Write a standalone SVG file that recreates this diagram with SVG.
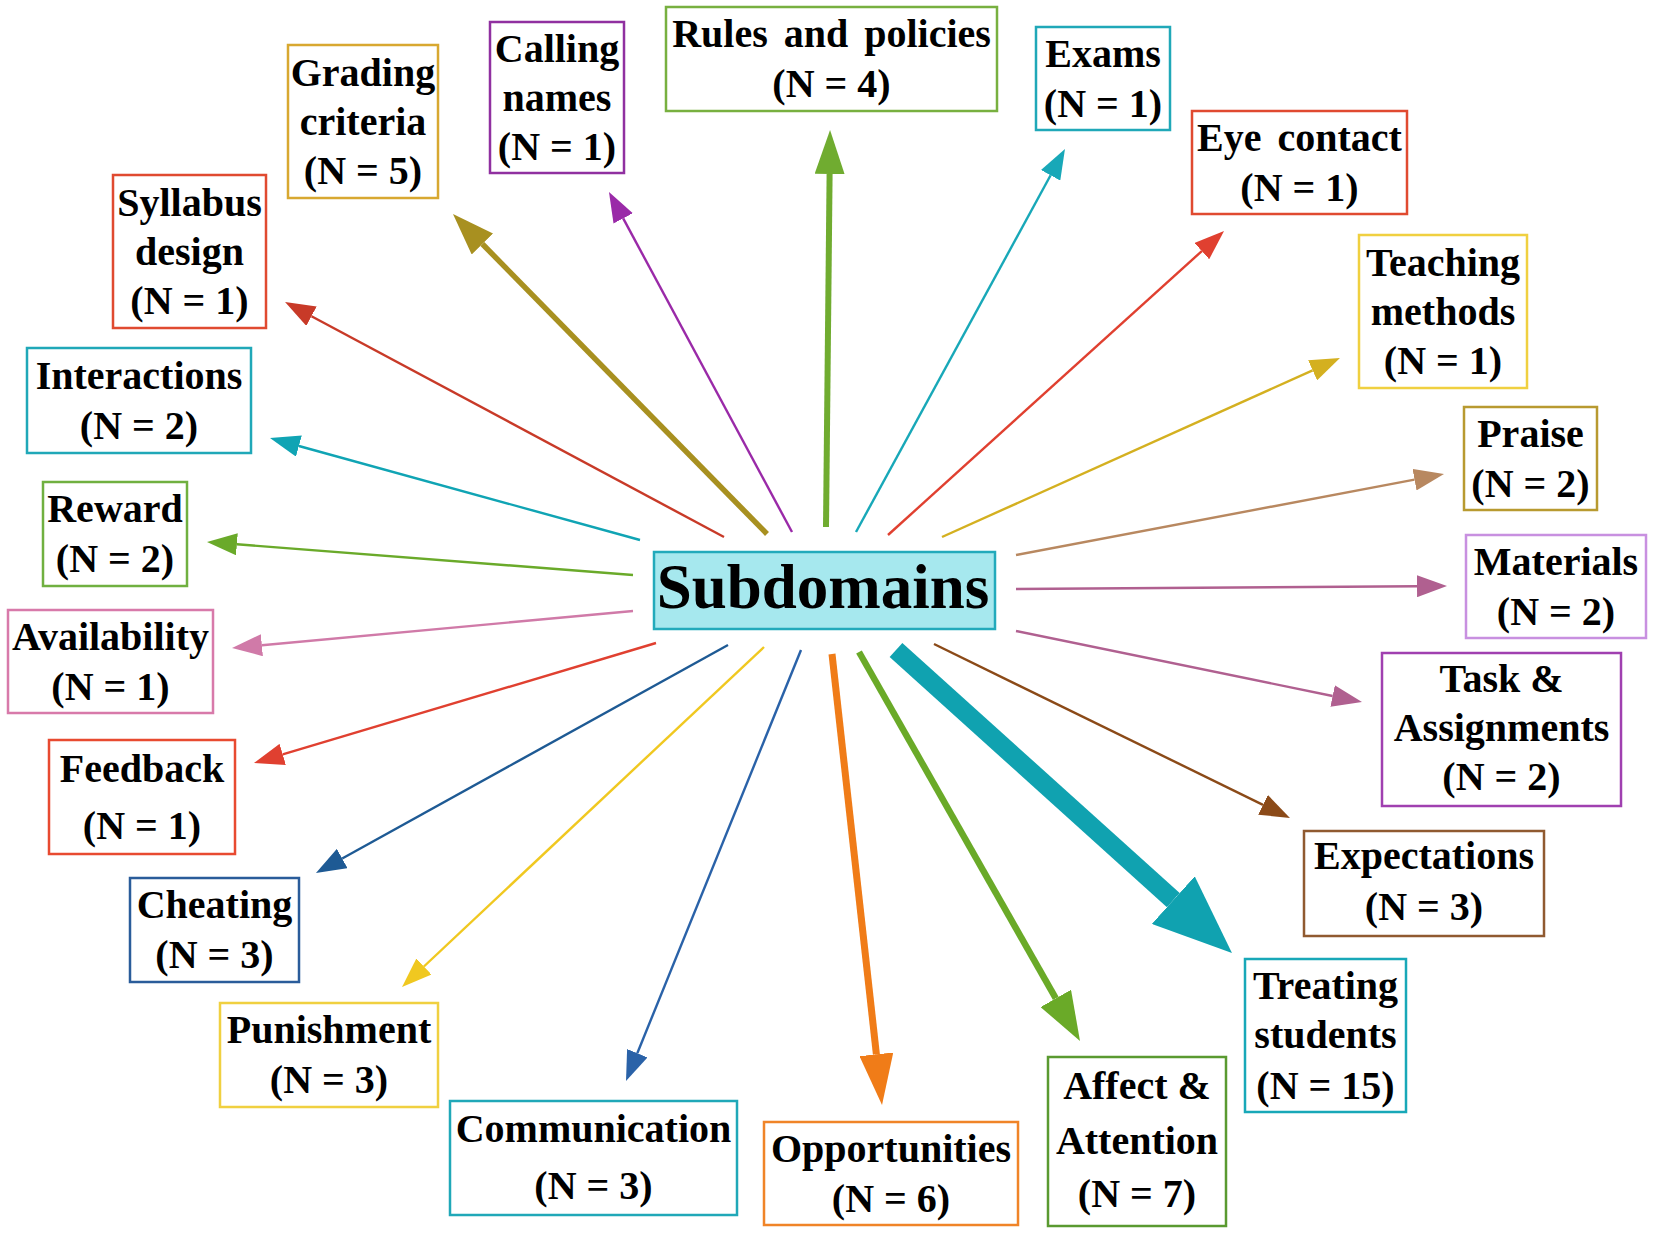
<svg xmlns="http://www.w3.org/2000/svg" width="1654" height="1234" viewBox="0 0 1654 1234">
<style>
.box{fill:#fff;stroke-width:2.5}
.lbl{font-family:"Liberation Serif","Times New Roman",serif;font-weight:bold;font-size:40px;text-anchor:middle;fill:#000}
.c{fill:none;stroke-linecap:butt}
.t{stroke-width:2.4}
</style>
<defs>
<marker id="mSyl" viewBox="0 -11 30 22" refX="0" refY="0" markerWidth="30" markerHeight="22" orient="auto" markerUnits="userSpaceOnUse"><path d="M0,-11 L30,0 L0,11 z" fill="#C83A28"/></marker>
<marker id="mGra" viewBox="0 -15 42 30" refX="0" refY="0" markerWidth="42" markerHeight="30" orient="auto" markerUnits="userSpaceOnUse"><path d="M0,-15 L42,0 L0,15 z" fill="#A89020"/></marker>
<marker id="mCal" viewBox="0 -11 30 22" refX="0" refY="0" markerWidth="30" markerHeight="22" orient="auto" markerUnits="userSpaceOnUse"><path d="M0,-11 L30,0 L0,11 z" fill="#9A2AA8"/></marker>
<marker id="mRul" viewBox="0 -15 44 30" refX="0" refY="0" markerWidth="44" markerHeight="30" orient="auto" markerUnits="userSpaceOnUse"><path d="M0,-15 L44,0 L0,15 z" fill="#70AC30"/></marker>
<marker id="mInt" viewBox="0 -11 30 22" refX="0" refY="0" markerWidth="30" markerHeight="22" orient="auto" markerUnits="userSpaceOnUse"><path d="M0,-11 L30,0 L0,11 z" fill="#10A4B4"/></marker>
<marker id="mRew" viewBox="0 -11 30 22" refX="0" refY="0" markerWidth="30" markerHeight="22" orient="auto" markerUnits="userSpaceOnUse"><path d="M0,-11 L30,0 L0,11 z" fill="#6AAA2A"/></marker>
<marker id="mAva" viewBox="0 -11 30 22" refX="0" refY="0" markerWidth="30" markerHeight="22" orient="auto" markerUnits="userSpaceOnUse"><path d="M0,-11 L30,0 L0,11 z" fill="#D07AA8"/></marker>
<marker id="mFee" viewBox="0 -11 30 22" refX="0" refY="0" markerWidth="30" markerHeight="22" orient="auto" markerUnits="userSpaceOnUse"><path d="M0,-11 L30,0 L0,11 z" fill="#E04030"/></marker>
<marker id="mChe" viewBox="0 -11 30 22" refX="0" refY="0" markerWidth="30" markerHeight="22" orient="auto" markerUnits="userSpaceOnUse"><path d="M0,-11 L30,0 L0,11 z" fill="#1E5A94"/></marker>
<marker id="mPun" viewBox="0 -11 30 22" refX="0" refY="0" markerWidth="30" markerHeight="22" orient="auto" markerUnits="userSpaceOnUse"><path d="M0,-11 L30,0 L0,11 z" fill="#F0C820"/></marker>
<marker id="mCom" viewBox="0 -11 30 22" refX="0" refY="0" markerWidth="30" markerHeight="22" orient="auto" markerUnits="userSpaceOnUse"><path d="M0,-11 L30,0 L0,11 z" fill="#2A62A8"/></marker>
<marker id="mOpp" viewBox="0 -17 51 34" refX="0" refY="0" markerWidth="51" markerHeight="34" orient="auto" markerUnits="userSpaceOnUse"><path d="M0,-17 L51,0 L0,17 z" fill="#F07C18"/></marker>
<marker id="mAff" viewBox="0 -17.5 49 35" refX="0" refY="0" markerWidth="49" markerHeight="35" orient="auto" markerUnits="userSpaceOnUse"><path d="M0,-17.5 L49,0 L0,17.5 z" fill="#6AAA28"/></marker>
<marker id="mTre" viewBox="0 -32 79 64" refX="0" refY="0" markerWidth="79" markerHeight="64" orient="auto" markerUnits="userSpaceOnUse"><path d="M0,-32 L79,0 L0,32 z" fill="#10A2B0"/></marker>
<marker id="mExp" viewBox="0 -11 30 22" refX="0" refY="0" markerWidth="30" markerHeight="22" orient="auto" markerUnits="userSpaceOnUse"><path d="M0,-11 L30,0 L0,11 z" fill="#8B4A18"/></marker>
<marker id="mTas" viewBox="0 -11 30 22" refX="0" refY="0" markerWidth="30" markerHeight="22" orient="auto" markerUnits="userSpaceOnUse"><path d="M0,-11 L30,0 L0,11 z" fill="#B06090"/></marker>
<marker id="mMat" viewBox="0 -11 30 22" refX="0" refY="0" markerWidth="30" markerHeight="22" orient="auto" markerUnits="userSpaceOnUse"><path d="M0,-11 L30,0 L0,11 z" fill="#B06090"/></marker>
<marker id="mPra" viewBox="0 -11 30 22" refX="0" refY="0" markerWidth="30" markerHeight="22" orient="auto" markerUnits="userSpaceOnUse"><path d="M0,-11 L30,0 L0,11 z" fill="#B88860"/></marker>
<marker id="mTea" viewBox="0 -11 30 22" refX="0" refY="0" markerWidth="30" markerHeight="22" orient="auto" markerUnits="userSpaceOnUse"><path d="M0,-11 L30,0 L0,11 z" fill="#D4B020"/></marker>
<marker id="mEye" viewBox="0 -11 30 22" refX="0" refY="0" markerWidth="30" markerHeight="22" orient="auto" markerUnits="userSpaceOnUse"><path d="M0,-11 L30,0 L0,11 z" fill="#E04030"/></marker>
<marker id="mExa" viewBox="0 -11 30 22" refX="0" refY="0" markerWidth="30" markerHeight="22" orient="auto" markerUnits="userSpaceOnUse"><path d="M0,-11 L30,0 L0,11 z" fill="#18A8B8"/></marker>
</defs>
<rect x="0" y="0" width="1654" height="1234" fill="#fff"/>
<g id="connectors">
<line class="c t" x1="724" y1="537" x2="311.5" y2="316.2" stroke="#C83A28" marker-end="url(#mSyl)"/>
<line class="c" x1="767" y1="534" x2="482.4" y2="244" stroke="#A89020" stroke-width="5.5" marker-end="url(#mGra)"/>
<line class="c t" x1="792" y1="532" x2="623.2" y2="218.4" stroke="#9A2AA8" marker-end="url(#mCal)"/>
<line class="c" x1="826" y1="527" x2="829.6" y2="174" stroke="#70AC30" stroke-width="6" marker-end="url(#mRul)"/>
<line class="c t" x1="640" y1="540" x2="298.9" y2="446" stroke="#10A4B4" marker-end="url(#mInt)"/>
<line class="c t" x1="633" y1="575" x2="236.9" y2="544.3" stroke="#6AAA2A" marker-end="url(#mRew)"/>
<line class="c t" x1="633" y1="611" x2="261.9" y2="645.2" stroke="#D07AA8" marker-end="url(#mAva)"/>
<line class="c t" x1="656" y1="643" x2="282.7" y2="754.4" stroke="#E04030" marker-end="url(#mFee)"/>
<line class="c t" x1="728" y1="645" x2="342.2" y2="858.5" stroke="#1E5A94" marker-end="url(#mChe)"/>
<line class="c t" x1="764" y1="647" x2="423.9" y2="966.5" stroke="#F0C820" marker-end="url(#mPun)"/>
<line class="c t" x1="801" y1="650" x2="637.3" y2="1053.2" stroke="#2A62A8" marker-end="url(#mCom)"/>
<line class="c" x1="832" y1="654" x2="876.4" y2="1054.3" stroke="#F07C18" stroke-width="7" marker-end="url(#mOpp)"/>
<line class="c" x1="859" y1="652" x2="1055.8" y2="998.4" stroke="#6AAA28" stroke-width="6.5" marker-end="url(#mAff)"/>
<line class="c" x1="896" y1="650" x2="1173.3" y2="900.1" stroke="#10A2B0" stroke-width="19" marker-end="url(#mTre)"/>
<line class="c t" x1="934" y1="644" x2="1263" y2="804.8" stroke="#8B4A18" marker-end="url(#mExp)"/>
<line class="c t" x1="1016" y1="631" x2="1332.6" y2="696" stroke="#B06090" marker-end="url(#mTas)"/>
<line class="c t" x1="1016" y1="589" x2="1417" y2="586.2" stroke="#B06090" marker-end="url(#mMat)"/>
<line class="c t" x1="1016" y1="555" x2="1414.5" y2="479.6" stroke="#B88860" marker-end="url(#mPra)"/>
<line class="c t" x1="942" y1="537" x2="1312.6" y2="370.3" stroke="#D4B020" marker-end="url(#mTea)"/>
<line class="c t" x1="888" y1="535" x2="1201.8" y2="251.1" stroke="#E04030" marker-end="url(#mEye)"/>
<line class="c t" x1="856" y1="532" x2="1050.6" y2="175.3" stroke="#18A8B8" marker-end="url(#mExa)"/>
</g>
<g id="subdomains">
<rect x="654" y="552" width="341" height="77" fill="#A6E8EE" stroke="#22AABB" stroke-width="2.5"/>
<text x="823" y="608" class="lbl" style="font-size:63px">Subdomains</text>
</g>
<g id="grading">
<rect class="box" x="288" y="45" width="150" height="153" stroke="#D8A830"/>
<text class="lbl" x="363" y="85.5">Grading</text><text class="lbl" x="363" y="134.5">criteria</text><text class="lbl" x="363" y="183.5">(N = 5)</text>
</g>
<g id="calling">
<rect class="box" x="490" y="22" width="134" height="151" stroke="#9030A0"/>
<text class="lbl" x="557" y="61.5">Calling</text><text class="lbl" x="557" y="110.5">names</text><text class="lbl" x="557" y="159.5">(N = 1)</text>
</g>
<g id="rules">
<rect class="box" x="666" y="7" width="331" height="104" stroke="#78B040"/>
<text class="lbl" x="831.5" y="47" word-spacing="6">Rules and policies</text><text class="lbl" x="831.5" y="97">(N = 4)</text>
</g>
<g id="syllabus">
<rect class="box" x="113" y="175" width="153" height="153" stroke="#E04A30"/>
<text class="lbl" x="189.5" y="215.5">Syllabus</text><text class="lbl" x="189.5" y="264.5">design</text><text class="lbl" x="189.5" y="313.5">(N = 1)</text>
</g>
<g id="interactions">
<rect class="box" x="27" y="348" width="224" height="105" stroke="#20A8B8"/>
<text class="lbl" x="139" y="388.5">Interactions</text><text class="lbl" x="139" y="438.5">(N = 2)</text>
</g>
<g id="reward">
<rect class="box" x="43" y="482" width="144" height="104" stroke="#70B040"/>
<text class="lbl" x="115" y="522">Reward</text><text class="lbl" x="115" y="572">(N = 2)</text>
</g>
<g id="availability">
<rect class="box" x="8" y="610" width="205" height="103" stroke="#D87AAA"/>
<text class="lbl" x="110.5" y="649.5">Availability</text><text class="lbl" x="110.5" y="699.5">(N = 1)</text>
</g>
<g id="feedback">
<rect class="box" x="49" y="740" width="186" height="114" stroke="#E84A30"/>
<text class="lbl" x="142" y="782">Feedback</text><text class="lbl" x="142" y="839">(N = 1)</text>
</g>
<g id="cheating">
<rect class="box" x="130" y="878" width="169" height="104" stroke="#2A5C9A"/>
<text class="lbl" x="214.5" y="918">Cheating</text><text class="lbl" x="214.5" y="968">(N = 3)</text>
</g>
<g id="punishment">
<rect class="box" x="220" y="1003" width="218" height="104" stroke="#F0D040"/>
<text class="lbl" x="329" y="1043">Punishment</text><text class="lbl" x="329" y="1093">(N = 3)</text>
</g>
<g id="communication">
<rect class="box" x="450" y="1101" width="287" height="114" stroke="#20A8B8"/>
<text class="lbl" x="593.5" y="1142">Communication</text><text class="lbl" x="593.5" y="1199">(N = 3)</text>
</g>
<g id="opportunities">
<rect class="box" x="764" y="1122" width="254" height="103" stroke="#F08428"/>
<text class="lbl" x="891" y="1162">Opportunities</text><text class="lbl" x="891" y="1212">(N = 6)</text>
</g>
<g id="affect">
<rect class="box" x="1048" y="1057" width="178" height="169" stroke="#5A9A30"/>
<text class="lbl" x="1137" y="1099">Affect &amp;</text><text class="lbl" x="1137" y="1154">Attention</text><text class="lbl" x="1137" y="1207">(N = 7)</text>
</g>
<g id="treating">
<rect class="box" x="1245" y="959" width="161" height="153" stroke="#18A8B8"/>
<text class="lbl" x="1325.5" y="999">Treating</text><text class="lbl" x="1325.5" y="1048">students</text><text class="lbl" x="1325.5" y="1099">(N = 15)</text>
</g>
<g id="expectations">
<rect class="box" x="1304" y="831" width="240" height="105" stroke="#905A30"/>
<text class="lbl" x="1424" y="869">Expectations</text><text class="lbl" x="1424" y="920">(N = 3)</text>
</g>
<g id="task">
<rect class="box" x="1382" y="653" width="239" height="153" stroke="#A040B0"/>
<text class="lbl" x="1501.5" y="692">Task &amp;</text><text class="lbl" x="1501.5" y="741">Assignments</text><text class="lbl" x="1501.5" y="790">(N = 2)</text>
</g>
<g id="materials">
<rect class="box" x="1466" y="535" width="180" height="103" stroke="#C890E0"/>
<text class="lbl" x="1556" y="574.5">Materials</text><text class="lbl" x="1556" y="624.5">(N = 2)</text>
</g>
<g id="praise">
<rect class="box" x="1464" y="407" width="133" height="103" stroke="#B89A30"/>
<text class="lbl" x="1530.5" y="446.5">Praise</text><text class="lbl" x="1530.5" y="496.5">(N = 2)</text>
</g>
<g id="teaching">
<rect class="box" x="1359" y="235" width="168" height="153" stroke="#F0D040"/>
<text class="lbl" x="1443" y="275.5">Teaching</text><text class="lbl" x="1443" y="324.5">methods</text><text class="lbl" x="1443" y="373.5">(N = 1)</text>
</g>
<g id="eyecontact">
<rect class="box" x="1192" y="111" width="215" height="103" stroke="#E04A30"/>
<text class="lbl" x="1299.5" y="150.5" word-spacing="6">Eye contact</text><text class="lbl" x="1299.5" y="200.5">(N = 1)</text>
</g>
<g id="exams">
<rect class="box" x="1036" y="27" width="134" height="103" stroke="#20A8B8"/>
<text class="lbl" x="1103" y="66.5">Exams</text><text class="lbl" x="1103" y="116.5">(N = 1)</text>
</g>
</svg>
